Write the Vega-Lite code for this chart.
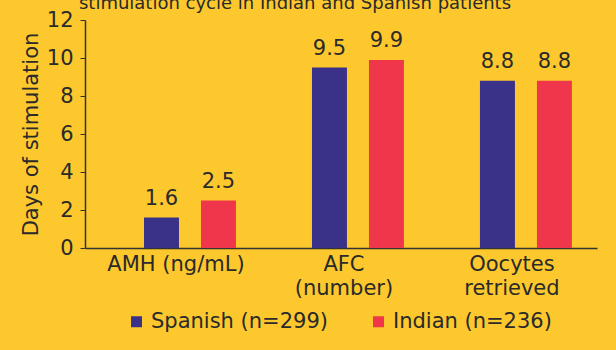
{
  "$schema": "https://vega.github.io/schema/vega-lite/v6.json",
  "autosize": {"type": "none"},
  "width": 512,
  "height": 228,
  "padding": {"left": 85, "top": 20, "right": 19, "bottom": 102},
  "background": "#FDC82E",
  "title": {
    "text": "stimulation cycle in Indian and Spanish patients",
    "font": "DejaVu Sans",
    "fontSize": 18,
    "fontWeight": "normal",
    "color": "#2a2a2a",
    "anchor": "middle",
    "frame": "group",
    "dx": -46,
    "dy": 19,
    "baseline": "alphabetic",
    "offset": 1
  },
  "config": {
    "view": {"stroke": null},
    "font": "DejaVu Sans",
    "text": {"font": "DejaVu Sans"}
  },
  "data": {
    "values": [
      {"measure": "AMH (ng/mL)", "group": "Spanish (n=299)", "value": 1.6},
      {"measure": "AMH (ng/mL)", "group": "Indian (n=236)", "value": 2.5},
      {"measure": "AFC (number)", "group": "Spanish (n=299)", "value": 9.5},
      {"measure": "AFC (number)", "group": "Indian (n=236)", "value": 9.9},
      {"measure": "Oocytes retrieved", "group": "Spanish (n=299)", "value": 8.8},
      {"measure": "Oocytes retrieved", "group": "Indian (n=236)", "value": 8.8}
    ]
  },
  "encoding": {
    "x": {
      "field": "measure",
      "type": "nominal",
      "sort": ["AMH (ng/mL)", "AFC (number)", "Oocytes retrieved"],
      "scale": {"paddingInner": 0.3, "paddingOuter": 0.174, "align": 0.79},
      "axis": {
        "title": null,
        "labelAngle": 0,
        "labelFontSize": 21,
        "labelColor": "#2a2a2a",
        "labelFont": "DejaVu Sans",
        "labelExpr": "datum.label == 'AMH (ng/mL)' ? datum.label : split(datum.label, ' ')",
        "labelLineHeight": 24,
        "labelPadding": 5,
        "labelOffset": -14,
        "labelLimit": 300,
        "ticks": false,
        "domainColor": "#333333",
        "domainWidth": 1.5
      }
    },
    "xOffset": {
      "field": "group",
      "type": "nominal",
      "sort": ["Spanish (n=299)", "Indian (n=236)"],
      "scale": {"paddingInner": 0.386, "paddingOuter": 0.225}
    },
    "y": {
      "field": "value",
      "type": "quantitative",
      "scale": {"domain": [0, 12]},
      "axis": {
        "title": "Days of stimulation",
        "titleFontSize": 21,
        "titleFont": "DejaVu Sans",
        "titleFontWeight": "normal",
        "titleColor": "#2a2a2a",
        "titlePadding": 5,
        "values": [0, 2, 4, 6, 8, 10, 12],
        "labelFontSize": 21,
        "labelColor": "#2a2a2a",
        "labelFont": "DejaVu Sans",
        "labelPadding": 7,
        "tickSize": 5,
        "tickColor": "#333333",
        "domainColor": "#333333",
        "domainWidth": 1.5,
        "grid": false
      }
    },
    "color": {
      "field": "group",
      "type": "nominal",
      "sort": ["Spanish (n=299)", "Indian (n=236)"],
      "scale": {"domain": ["Spanish (n=299)", "Indian (n=236)"], "range": ["#3A3289", "#F0364A"]},
      "legend": {
        "title": null,
        "orient": "none",
        "direction": "horizontal",
        "legendX": 41,
        "legendY": 291,
        "symbolType": "square",
        "symbolSize": 121,
        "symbolStrokeWidth": 0,
        "labelFontSize": 21,
        "labelFont": "DejaVu Sans",
        "labelColor": "#2a2a2a",
        "labelOffset": 4,
        "labelLimit": 300,
        "columnPadding": 40
      }
    }
  },
  "layer": [
    {"mark": {"type": "bar"}},
    {
      "mark": {"type": "text", "baseline": "bottom", "dy": -9, "fontSize": 21, "color": "#2a2a2a"},
      "encoding": {
        "text": {"field": "value", "type": "quantitative", "format": ".1f"},
        "color": {"value": "#2a2a2a"}
      }
    }
  ]
}
